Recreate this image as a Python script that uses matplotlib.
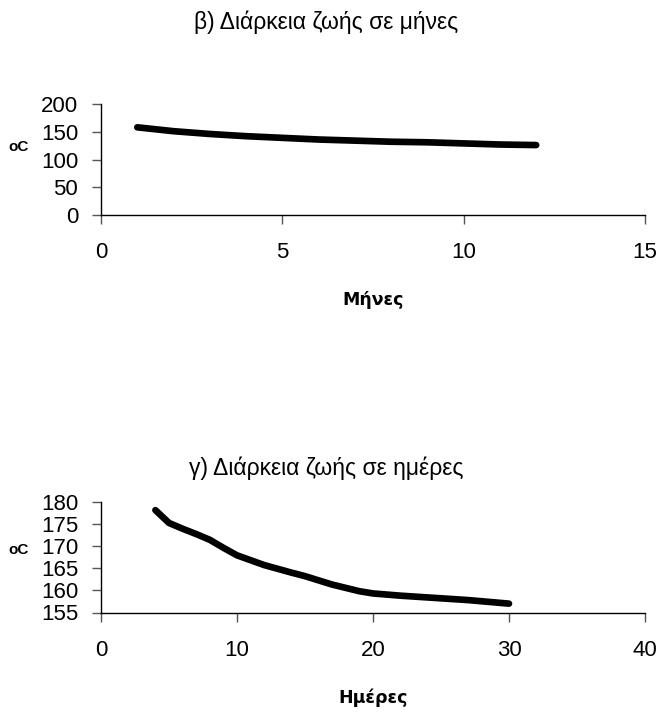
import matplotlib
matplotlib.use("Agg")
import matplotlib.pyplot as plt

plt.rcParams['font.family'] = ['Liberation Sans', 'DejaVu Sans']

months = [1, 2, 3, 4, 5, 6, 7, 8, 9, 10, 11, 12]
temp_months = [158, 151, 146, 142, 139, 136, 134, 132, 131, 129, 127, 126]

days = [4, 5, 6, 7, 8, 9, 10, 12, 14, 15, 17, 19, 20, 22, 24, 27, 30]
temp_days = [178.1, 175.2, 173.9, 172.7, 171.4, 169.6, 167.9, 165.7, 164.0, 163.2,
             161.3, 159.8, 159.3, 158.8, 158.4, 157.8, 157.0]

title_top = "β) Διάρκεια ζωής σε μήνες"
title_bot = "γ) Διάρκεια ζωής σε ημέρες"
xlabel_top = "Μήνες"
xlabel_bot = "Ημέρες"
ylabel = "oC"

W, H = 660, 713
fig = plt.figure(figsize=(W / 100, H / 100), dpi=100)

def fx(px):
    return px / W

def fy(py):
    return 1 - py / H

def style(ax):
    for s in ['top', 'right']:
        ax.spines[s].set_visible(False)
    ax.spines['left'].set_linewidth(1.0)
    ax.spines['bottom'].set_linewidth(1.0)
    ax.tick_params(axis='both', direction='out', length=6.5, width=1.0,
                   color='#555555', labelsize=16)
    ax.tick_params(axis='x', pad=13)
    ax.tick_params(axis='y', pad=10)

ax1 = fig.add_axes([fx(101), fy(215), fx(645) - fx(101), fy(104) - fy(215)])
ax1.plot(months, temp_months, color='black', lw=4.8, solid_capstyle='round',
         solid_joinstyle='round')
ax1.set_xlim(0, 15)
ax1.set_ylim(0, 200)
ax1.set_xticks([0, 5, 10, 15])
ax1.set_yticks([0, 50, 100, 150, 200])
style(ax1)

ax2 = fig.add_axes([fx(101), fy(612.5), fx(645) - fx(101), fy(501.7) - fy(612.5)])
ax2.plot(days, temp_days, color='black', lw=4.8, solid_capstyle='round',
         solid_joinstyle='round')
ax2.set_xlim(0, 40)
ax2.set_ylim(155, 180)
ax2.set_xticks([0, 10, 20, 30, 40])
ax2.set_yticks([155, 160, 165, 170, 175, 180])
style(ax2)

fig.text(fx(326), fy(22), title_top, ha='center', va='center', fontsize=16.5)
fig.text(fx(326), fy(468), title_bot, ha='center', va='center', fontsize=16.5)
fig.text(fx(373), fy(300), xlabel_top, ha='center', va='center', fontsize=12.5,
         fontweight='bold', family=['DejaVu Sans'])
fig.text(fx(373), fy(698), xlabel_bot, ha='center', va='center', fontsize=12.5,
         fontweight='bold', family=['DejaVu Sans'])
fig.text(fx(19), fy(147), ylabel, ha='center', va='center', fontsize=11,
         fontweight='bold')
fig.text(fx(19), fy(550), ylabel, ha='center', va='center', fontsize=11,
         fontweight='bold')

fig.savefig("out.png", dpi=100)
